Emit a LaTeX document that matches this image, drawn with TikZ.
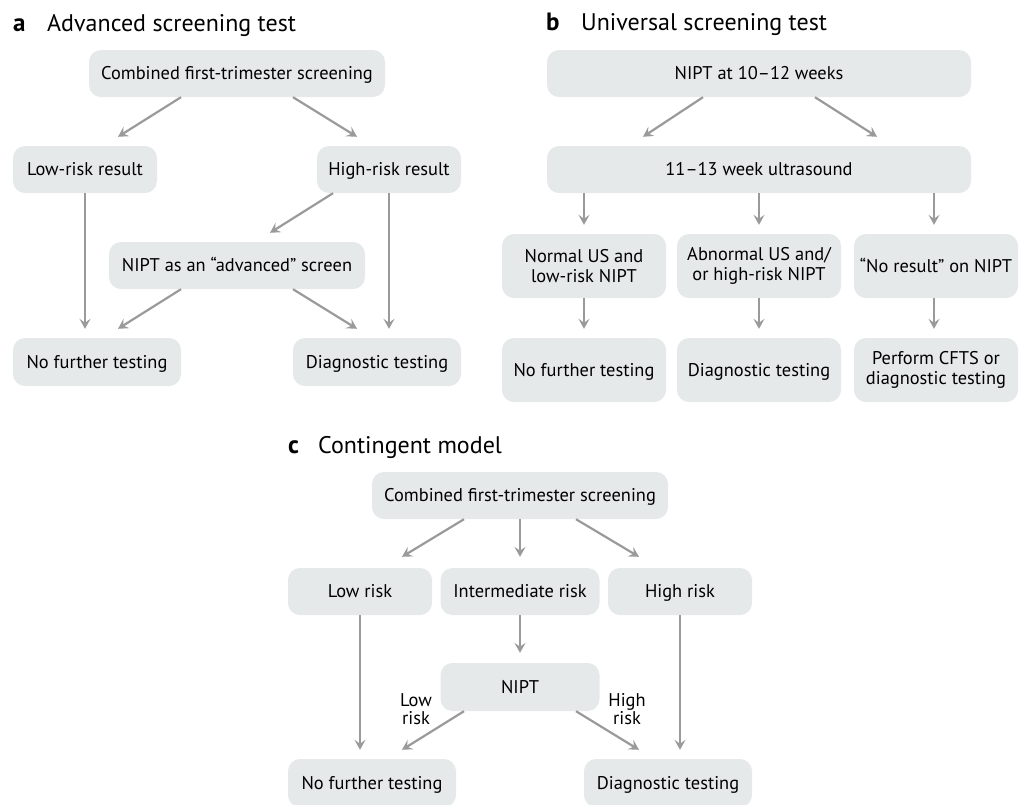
\documentclass[tikz,border=0pt]{standalone}
\usepackage{fontspec}
\setmainfont{PT Sans}
\usetikzlibrary{arrows.meta}
\definecolor{boxfill}{HTML}{E5E9E9}
\definecolor{arrgray}{HTML}{9A9A9A}
\begin{document}
\begin{tikzpicture}[x=1pt,y=-1pt,
  box/.style={fill=boxfill, rounded corners=12pt, inner sep=0pt, align=center,
    minimum height=47pt, font=\fontsize{18.4}{20.5}\selectfont, text=black},
  one/.style={text height=16pt, text depth=4pt},
  arr/.style={draw=arrgray, line width=2.2pt, -{Stealth[length=10pt,width=11pt,inset=4pt]}},
  ttl/.style={anchor=base west, inner sep=0pt, font=\fontsize{24}{28}\selectfont},
  lbl/.style={anchor=base west, inner sep=0pt, font=\bfseries\fontsize{25}{28}\selectfont},
  note/.style={align=center, inner sep=0pt, font=\fontsize{18.4}{18.5}\selectfont}]
\useasboundingbox (0,0) rectangle (1022,804);
% ---------- panel a ----------
\node[lbl] (la) at (13,31) {a};
\node[ttl] (ta) at (47,31) {Advanced screening test};
\node[box, one, minimum width=296pt] (a1) at (237,73.5) {Combined first-trimester screening};
\node[box, one, minimum width=144pt] (a2) at (85,169.5) {Low-risk result};
\node[box, one, minimum width=144pt] (a3) at (389,169.5) {High-risk result};
\node[box, one, minimum width=256pt] (a4) at (237,265.5) {NIPT as an “advanced” screen};
\node[box, one, minimum width=168pt, minimum height=48pt] (a5) at (97,362) {No further testing};
\node[box, one, minimum width=168pt, minimum height=48pt] (a6) at (377,362) {Diagnostic testing};
\draw[arr] ([xshift=-56pt]a1.south) -- ([xshift=33pt,yshift=9pt]a2.north);
\draw[arr] ([xshift=56pt]a1.south) -- ([xshift=-32pt,yshift=9pt]a3.north);
\draw[arr, shorten >=9pt] (a2.south) -- (a2.south |- a5.north);
\draw[arr] ([xshift=-56pt]a3.south) -- ([xshift=33pt,yshift=9pt]a4.north);
\draw[arr, shorten >=9pt] (a3.south) -- (a3.south |- a6.north);
\draw[arr] ([xshift=-56pt]a4.south) -- ([xshift=21pt,yshift=9pt]a5.north);
\draw[arr] ([xshift=56pt]a4.south) -- ([xshift=-20pt,yshift=9pt]a6.north);
% ---------- panel b ----------
\node[lbl] (lb) at (546,30) {b};
\node[ttl] (tb) at (581,30) {Universal screening test};
\node[box, one, minimum width=424pt] (b1) at (759,73.5) {NIPT at 10–12 weeks};
\node[box, one, minimum width=424pt] (b2) at (759,169.5) {11–13 week ultrasound};
\node[box, minimum width=164pt, minimum height=64pt] (b3) at (584,266) {Normal US and\\low-risk NIPT};
\node[box, minimum width=164pt, minimum height=64pt] (b4) at (759,266) {Abnormal US and/\\or high-risk NIPT};
\node[box, one, minimum width=164pt, minimum height=64pt] (b5) at (936,266) {“No result” on NIPT};
\node[box, one, minimum width=164pt, minimum height=64pt] (b6) at (584,370) {No further testing};
\node[box, one, minimum width=164pt, minimum height=64pt] (b7) at (759,370) {Diagnostic testing};
\node[box, minimum width=164pt, minimum height=64pt] (b8) at (936,370) {Perform CFTS or\\diagnostic testing};
\draw[arr] ([xshift=-56pt]b1.south) -- ([xshift=-116pt,yshift=9pt]b2.north);
\draw[arr] ([xshift=56pt]b1.south) -- ([xshift=118pt,yshift=9pt]b2.north);
\draw[arr, shorten >=9pt] (b3.north |- b2.south) -- (b3.north);
\draw[arr, shorten >=9pt] (b4.north |- b2.south) -- (b4.north);
\draw[arr, shorten >=9pt] ([xshift=-2pt]b5.north |- b2.south) -- ([xshift=-2pt]b5.north);
\draw[arr, shorten >=9pt] (b3.south) -- (b6.north);
\draw[arr, shorten >=9pt] (b4.south) -- (b7.north);
\draw[arr, shorten >=9pt] ([xshift=-2pt]b5.south) -- ([xshift=-2pt]b8.north);
% ---------- panel c ----------
\node[lbl] (lc) at (288,453) {c};
\node[ttl] (tc) at (318,453) {Contingent model};
\node[box, one, minimum width=296pt] (c1) at (520,495.5) {Combined first-trimester screening};
\node[box, one, minimum width=144pt] (c2) at (360,591.5) {Low risk};
\node[box, one, minimum width=159pt] (c3) at (520,591.5) {Intermediate risk};
\node[box, one, minimum width=144pt] (c4) at (680,591.5) {High risk};
\node[box, one, minimum width=159pt, minimum height=48pt] (c5) at (520,687) {NIPT};
\node[box, one, minimum width=168pt, minimum height=48pt] (c6) at (372,783) {No further testing};
\node[box, one, minimum width=168pt, minimum height=48pt] (c7) at (668,783) {Diagnostic testing};
\draw[arr] ([xshift=-56pt]c1.south) -- ([xshift=42pt,yshift=11pt]c2.north);
\draw[arr, shorten >=11pt] (c1.south) -- (c1.south |- c3.north);
\draw[arr] ([xshift=56pt]c1.south) -- ([xshift=-41pt,yshift=11pt]c4.north);
\draw[arr, shorten >=9pt] (c2.south) -- (c2.south |- c6.north);
\draw[arr, shorten >=10pt] (c3.south) -- (c5.north);
\draw[arr, shorten >=9pt] (c4.south) -- (c4.south |- c7.north);
\draw[arr] ([xshift=-56pt]c5.south) -- ([xshift=30pt,yshift=9pt]c6.north);
\draw[arr] ([xshift=56pt]c5.south) -- ([xshift=-29pt,yshift=9pt]c7.north);
\node[note] (nl) at (416,709) {Low\\risk};
\node[note] (nh) at (627,709) {High\\risk};
\end{tikzpicture}
\end{document}
